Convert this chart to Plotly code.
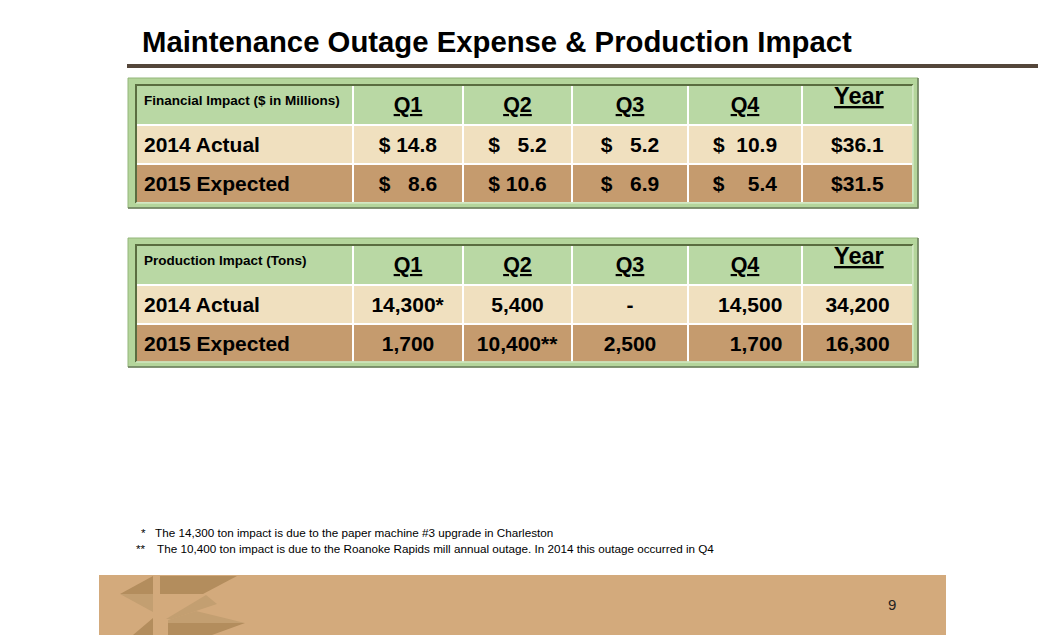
import plotly.graph_objects as go

W, H = 1046, 635
OFF = 8  # the page body adds an 8px margin around the figure
FONT = 'Liberation Sans, Arial, sans-serif'
NB = '\u00a0'

title = 'Maintenance Outage Expense & Production Impact'
quarters = ['Q1', 'Q2', 'Q3', 'Q4', 'Year']
row_labels = ['2014 Actual', '2015 Expected']

fin_label = 'Financial Impact ($ in Millions)'
fin_2014 = [14.8, 5.2, 5.2, 10.9, 36.1]
fin_2015 = [8.6, 10.6, 6.9, 5.4, 31.5]

prod_label = 'Production Impact (Tons)'
prod_2014 = [14300, 5400, None, 14500, 34200]
prod_2015 = [1700, 10400, 2500, 1700, 16300]
prod_marks_2014 = ['*', '', '', '', '']
prod_marks_2015 = ['', '**', '', '', '']

footnote_marks = ['*', '**']
footnotes = ['The 14,300 ton impact is due to the paper machine #3 upgrade in Charleston',
             'The 10,400 ton impact is due to the Roanoke Rapids mill annual outage. In 2014 this outage occurred in Q4']
page_number = '9'

GREEN = '#b9d8a4'
CREAM = '#f0e0bf'
TAN = '#c59b6e'
BAND = '#d3aa7c'

col_w = [217, 110, 109, 116, 114, 111]
fin_gap = [1, 1, 1, 2, 0]


def px(x):
    return (x - OFF) / W


def py(y):
    return 1 - (y - OFF) / H


def money(v, gap):
    s = f'{v:.1f}'
    if gap == 0:
        return '$' + s
    return '$' + NB * (gap + 2 * (4 - len(s))) + s


def tons(v, mark):
    return '-' if v is None else f'{v:,}{mark}'


def make_table(top, label, cols, aligns):
    # the "Year" heading sits higher than the quarter headings, it is added as an annotation
    header = [f'<b>{label}</b>'] + [f'<b><u>{q}</u></b>' for q in quarters[:-1]] + ['']
    cells = [[f'<b>{r}</b>' for r in row_labels]] + [[f'<b>{a}</b>', f'<b>{b}</b>'] for a, b in cols]
    return go.Table(
        domain=dict(x=[px(136), px(913)], y=[py(top + 118), py(top)]),
        columnwidth=col_w,
        header=dict(values=header, fill_color=GREEN, height=38,
                    line=dict(color='white', width=2),
                    align=['left'] + ['center'] * 5,
                    font=dict(family=FONT, size=[13.5] + [21.5] * 5, color='black')),
        cells=dict(values=cells, fill_color=[[CREAM, TAN]] * 6, height=39,
                   line=dict(color='white', width=2),
                   align=aligns,
                   font=dict(family=FONT, size=21, color='black')),
    )


def frame_shapes(x0, y0, x1, y1):
    ox0, oy0, ox1, oy1 = px(x0), py(y0), px(x1), py(y1)
    ix0, iy0, ix1, iy1 = px(x0 + 8), py(y0 + 7), px(x1 - 5), py(y1 - 5)
    path = (f'M {ox0} {oy0} L {ox1} {oy0} L {ox1} {oy1} L {ox0} {oy1} Z '
            f'M {ix0} {iy0} L {ix0} {iy1} L {ix1} {iy1} L {ix1} {iy0} Z')
    return [
        dict(type='path', xref='paper', yref='paper', path=path,
             fillcolor='#b4d59b', line=dict(color='#93b67b', width=1)),
        dict(type='path', xref='paper', yref='paper',
             path=f'M {ox1} {oy0} L {ox1} {oy1} L {ox0} {oy1}',
             line=dict(color='#6c7e5d', width=1.5)),
        dict(type='path', xref='paper', yref='paper',
             path=f'M {ix0} {iy1} L {ix0} {iy0} L {ix1} {iy0}',
             line=dict(color='#5a6d40', width=2)),
        dict(type='path', xref='paper', yref='paper',
             path=f'M {ix0} {iy1} L {ix1} {iy1} L {ix1} {iy0}',
             line=dict(color='#d6ebc6', width=1.5)),
    ]


def poly(points, color):
    d = 'M ' + ' L '.join(f'{px(x)} {py(y)}' for x, y in points) + ' Z'
    return dict(type='path', xref='paper', yref='paper', path=d,
                fillcolor=color, line=dict(width=0))


fin_cols = [(money(a, g), money(b, g)) for a, b, g in zip(fin_2014, fin_2015, fin_gap)]
prod_cols = [(tons(a, ma), tons(b, mb))
             for a, b, ma, mb in zip(prod_2014, prod_2015, prod_marks_2014, prod_marks_2015)]
prod_cols[3] = (prod_cols[3][0] + NB * 2, prod_cols[3][1] + NB * 2)

fig = go.Figure()
fig.add_trace(make_table(85, fin_label, fin_cols, ['left'] + ['center'] * 5))
fig.add_trace(make_table(245, prod_label, prod_cols, ['left', 'center', 'center', 'center', 'right', 'center']))

shapes = []
shapes += frame_shapes(128, 78, 918, 208)
shapes += frame_shapes(128, 238, 918, 367)
shapes.append(dict(type='line', xref='paper', yref='paper', x0=px(127), x1=1, y0=py(66), y1=py(66),
                   line=dict(color='#54463a', width=4)))
shapes.append(dict(type='rect', xref='paper', yref='paper', x0=px(99), x1=px(946), y0=0, y1=py(575),
                   fillcolor=BAND, line=dict(width=0)))
# logo
DARK, MID = '#b38d5d', '#c39f71'
shapes += [
    poly([(120, 594), (153, 576), (153, 594)], DARK),
    poly([(120, 594), (153, 594), (153, 612)], MID),
    poly([(133, 635), (153, 618), (153, 635)], DARK),
    poly([(160, 576), (237, 576), (203, 594), (160, 594)], DARK),
    poly([(206, 595), (217, 604), (172, 619), (166, 619)], MID),
    poly([(196, 611), (245, 623), (168, 623), (168, 620)], MID),
    poly([(168, 623), (245, 623), (212, 635), (168, 635)], DARK),
]

annotations = [
    dict(text=f'<b>{title}</b>', x=px(140), y=py(42), xanchor='left', yanchor='middle',
         font=dict(family=FONT, size=29.3, color='black')),
    dict(text=page_number, x=px(892), y=py(604), xanchor='center', yanchor='middle',
         font=dict(family=FONT, size=15, color='#222222')),
]
for top in (85, 245):
    annotations.append(dict(text=f'<b><u>{quarters[-1]}</u></b>', x=px(859), y=py(top + 11),
                            xanchor='center', yanchor='middle',
                            font=dict(family=FONT, size=23.5, color='black')))
for i, (m, t) in enumerate(zip(footnote_marks, footnotes)):
    yy = py(532 + 16 * i)
    annotations.append(dict(text=m, x=px(148), y=yy, xanchor='right', yanchor='middle',
                            font=dict(family=FONT, size=11.7, color='black')))
    annotations.append(dict(text=t, x=px(153 + 2 * i), y=yy, xanchor='left', yanchor='middle',
                            font=dict(family=FONT, size=11.7, color='black')))
for a in annotations:
    a.update(xref='paper', yref='paper', showarrow=False)

fig.update_layout(width=W, height=H, margin=dict(l=0, r=0, t=0, b=0),
                  paper_bgcolor='white', plot_bgcolor='white',
                  shapes=shapes, annotations=annotations, showlegend=False)
fig.write_html('out.html')
